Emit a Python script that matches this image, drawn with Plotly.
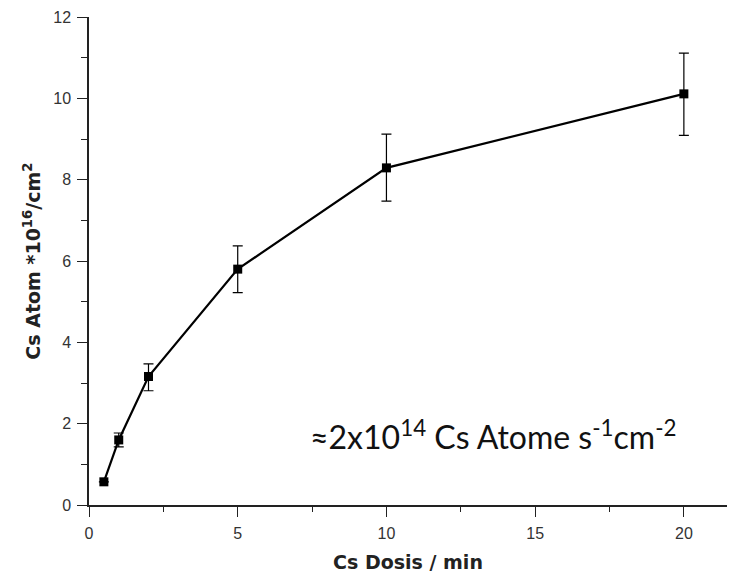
import plotly.graph_objects as go

dose_min = [0.5, 1, 2, 5, 10, 20]
cs_atoms = [0.57, 1.60, 3.16, 5.80, 8.29, 10.11]
err_plus = [0.0, 0.17, 0.31, 0.57, 0.83, 1.00]
err_minus = [0.0, 0.17, 0.35, 0.58, 0.82, 1.02]

x_ticks = [0, 5, 10, 15, 20]
y_ticks = [0, 2, 4, 6, 8, 10, 12]

fig = go.Figure()
fig.add_trace(go.Scatter(
    x=dose_min, y=cs_atoms, mode="lines+markers",
    line=dict(color="black", width=2.2),
    marker=dict(symbol="square", size=9, color="black"),
    error_y=dict(type="data", symmetric=False, array=err_plus, arrayminus=err_minus,
                 color="black", thickness=1.2, width=5),
    showlegend=False,
))

axis_font = dict(family="Liberation Sans, Arial", size=16, color="#333")
common = dict(showgrid=False, zeroline=False, showline=True, linecolor="#222", linewidth=1.5,
              ticks="outside", ticklen=10, tickwidth=1.3, tickcolor="#222", tickfont=axis_font,
              ticklabelstandoff=3)
fig.update_layout(
    width=729, height=576,
    margin=dict(l=89, r=2, t=17, b=71),
    paper_bgcolor="white", plot_bgcolor="white",
    xaxis=dict(range=[0, 21.45], tickvals=x_ticks,
               minor=dict(dtick=2.5, ticks="outside", ticklen=5, tickwidth=1.3, tickcolor="#222"),
               title=dict(text="<b>Cs Dosis / min</b>", standoff=15,
                          font=dict(family="DejaVu Sans", size=19, color="#222")),
               **common),
    yaxis=dict(range=[0, 12], tickvals=y_ticks,
               minor=dict(dtick=1, ticks="outside", ticklen=6, tickwidth=1.3, tickcolor="#222"),
               title=dict(text="<b>Cs Atom *10<sup>16</sup>/cm<sup>2</sup></b>", standoff=8,
                          font=dict(family="DejaVu Sans", size=19, color="#222")),
               **common),
)

fig.add_annotation(
    x=0.343, y=1.72, xref="paper", yref="y", xanchor="left", yanchor="middle",
    text="\u22482x10<sup>14</sup> Cs Atome s<sup>-1</sup>cm<sup>-2</sup>",
    showarrow=False,
    font=dict(family="Lato, Open Sans", size=32, color="#111"),
)

fig.write_html("out.html")
